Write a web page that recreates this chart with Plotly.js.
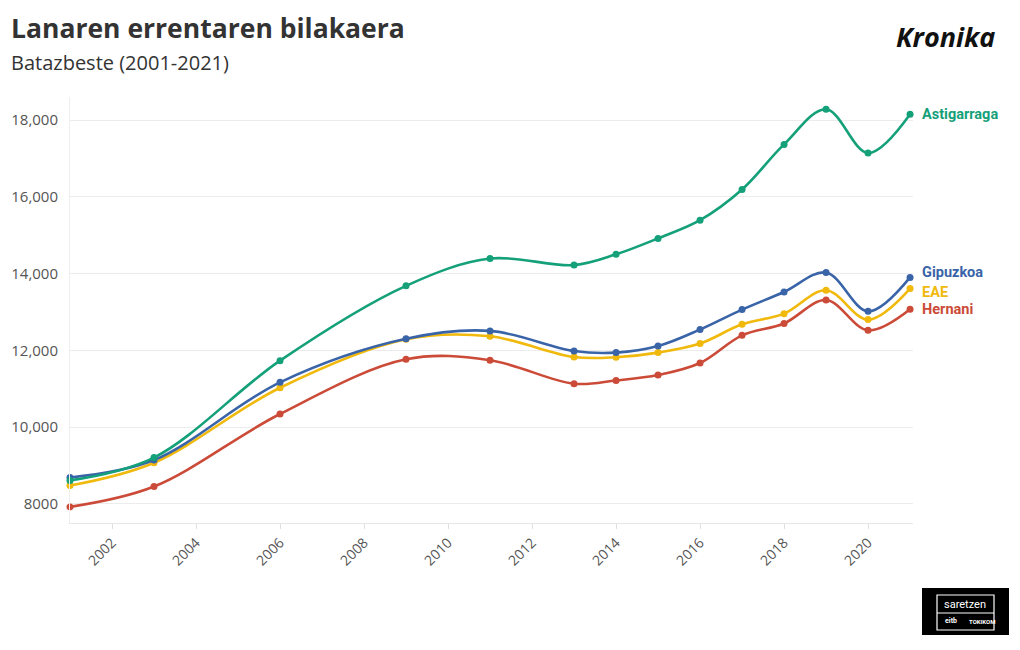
<!DOCTYPE html>
<html>
<head>
<meta charset="utf-8">
<script src="https://cdn.plot.ly/plotly-3.0.1.min.js"></script>
<style>
html,body{margin:0;padding:0;background:#fff;}
#chart{width:1020px;height:650px;}
</style>
</head>
<body>
<div id="chart"></div>
<script>
// ---- data ----
const years = [2001, 2003, 2006, 2009, 2011, 2013, 2014, 2015, 2016, 2017, 2018, 2019, 2020, 2021];
const astigarraga = [8610, 9205, 11730, 13680, 14390, 14220, 14500, 14915, 15390, 16190, 17365, 18280, 17140, 18150];
const gipuzkoa    = [8685, 9140, 11165, 12300, 12505, 11980, 11940, 12110, 12540, 13060, 13520, 14025, 13015, 13900];
const eae         = [8475, 9070, 11025, 12290, 12365, 11825, 11820, 11940, 12175, 12677, 12955, 13565, 12800, 13610];
const hernani     = [7920, 8450, 10340, 11765, 11740, 11130, 11215, 11355, 11670, 12390, 12700, 13310, 12520, 13070];
const seriesNames = ["Astigarraga", "Gipuzkoa", "EAE", "Hernani"];
const xTickVals = [2002, 2004, 2006, 2008, 2010, 2012, 2014, 2016, 2018, 2020];
const yTickVals = [8000, 10000, 12000, 14000, 16000, 18000];
const yTickText = ["8000", "10,000", "12,000", "14,000", "16,000", "18,000"];

// ---- style ----
const colors = {Astigarraga: "#14a079", Gipuzkoa: "#3a64a8", EAE: "#f0b90c", Hernani: "#cb4b38"};
const labelFont = "Roboto, 'Open Sans', sans-serif";
const textFont = "'Open Sans', Roboto, sans-serif";
const seriesData = {Astigarraga: astigarraga, Gipuzkoa: gipuzkoa, EAE: eae, Hernani: hernani};
// label pixel offsets (to separate overlapping labels)
const labelShift = {Astigarraga: 0, Gipuzkoa: 5, EAE: -4, Hernani: 0};

// draw order: bottom to top
const order = ["Hernani", "EAE", "Gipuzkoa", "Astigarraga"];
const traces = order.map(name => ({
  type: "scatter",
  mode: "lines+markers",
  name: name,
  x: years,
  y: seriesData[name],
  line: {color: colors[name], width: 2.6, shape: "spline", smoothing: 1},
  marker: {color: colors[name], size: 7},
  cliponaxis: false,
  hoverinfo: "skip"
}));

const M = {l: 70, r: 107, t: 97, b: 127};
const W = 1020, H = 650;
const pw = W - M.l - M.r, ph = H - M.t - M.b;
const px = x => (x - M.l) / pw;
const py = y => (H - M.b - y) / ph;

const annotations = [];
const shapes = [];
seriesNames.forEach(name => {
  const arr = seriesData[name];
  const v = arr[arr.length - 1];
  const s = labelShift[name];
  annotations.push({
    x: 2021, y: v, xref: "x", yref: "y",
    text: "<b>" + name + "</b>", showarrow: false,
    xanchor: "left", yanchor: "middle", xshift: 10, yshift: s,
    font: {family: labelFont, size: 14.5, color: colors[name]}
  });
  shapes.push({
    type: "line", xref: "x", yref: "y",
    xsizemode: "pixel", xanchor: 2021, x0: 5, x1: 9,
    ysizemode: "pixel", yanchor: v, y0: 0, y1: s * 0.8,
    line: {color: "#aaaaaa", width: 1}
  });
});

// titles
annotations.push({
  xref: "paper", yref: "paper", x: px(9), y: py(28), xanchor: "left", yanchor: "middle",
  text: "<b>Lanaren errentaren bilakaera</b>", showarrow: false,
  font: {family: textFont, size: 26.5, color: "#333333"}
});
annotations.push({
  xref: "paper", yref: "paper", x: px(9), y: py(62), xanchor: "left", yanchor: "middle",
  text: "Batazbeste (2001-2021)", showarrow: false,
  font: {family: textFont, size: 20, color: "#333333"}
});
// Kronika logo
annotations.push({
  xref: "paper", yref: "paper", x: px(945), y: py(36), xanchor: "center", yanchor: "middle",
  text: "<b><i>Kronika</i></b>", showarrow: false,
  font: {family: "'Open Sans', sans-serif", size: 27, color: "#111111"}
});
// bottom-right badge
shapes.push({type: "rect", xref: "paper", yref: "paper", x0: px(922), x1: px(1009), y0: py(635), y1: py(588),
  fillcolor: "#000000", line: {width: 0}});
shapes.push({type: "rect", xref: "paper", yref: "paper", x0: px(937), x1: px(994), y0: py(630), y1: py(595),
  fillcolor: "rgba(0,0,0,0)", line: {color: "#ffffff", width: 1.2}});
shapes.push({type: "line", xref: "paper", yref: "paper", x0: px(937), x1: px(994), y0: py(613), y1: py(613),
  line: {color: "#ffffff", width: 1}});
annotations.push({
  xref: "paper", yref: "paper", x: px(965), y: py(604), xanchor: "center", yanchor: "middle",
  text: "saretzen", showarrow: false, font: {family: labelFont, size: 11, color: "#ffffff"}
});
annotations.push({
  xref: "paper", yref: "paper", x: px(951), y: py(621), xanchor: "center", yanchor: "middle",
  text: "<b>eitb</b>", showarrow: false, font: {family: labelFont, size: 7, color: "#ffffff"}
});
annotations.push({
  xref: "paper", yref: "paper", x: px(982), y: py(621), xanchor: "center", yanchor: "middle",
  text: "<b>TOKIKOM</b>", showarrow: false, font: {family: labelFont, size: 6, color: "#ffffff"}
});

const layout = {
  width: W, height: H,
  margin: M,
  paper_bgcolor: "#ffffff", plot_bgcolor: "#ffffff",
  showlegend: false,
  hovermode: false,
  font: {family: textFont, color: "#555555"},
  xaxis: {
    range: [2001, 2021.07],
    tickvals: xTickVals, ticktext: xTickVals.map(String),
    tickangle: -45,
    showgrid: false, zeroline: false,
    showline: true, linecolor: "#e6e6e6", linewidth: 1,
    ticks: "outside", ticklen: 5, tickcolor: "#e0e0e0",
    tickfont: {family: textFont, size: 14, color: "#555555"}
  },
  yaxis: {
    range: [7500, 18600],
    tickvals: yTickVals, ticktext: yTickText,
    showgrid: true, gridcolor: "#ececec", gridwidth: 1,
    zeroline: false,
    showline: true, linecolor: "#eeeeee", linewidth: 1,
    ticks: "", ticklabelstandoff: 8,
    tickfont: {family: textFont, size: 15, color: "#555555"}
  },
  annotations: annotations,
  shapes: shapes
};

Plotly.newPlot("chart", traces, layout, {staticPlot: true, displayModeBar: false});
</script>
</body>
</html>
